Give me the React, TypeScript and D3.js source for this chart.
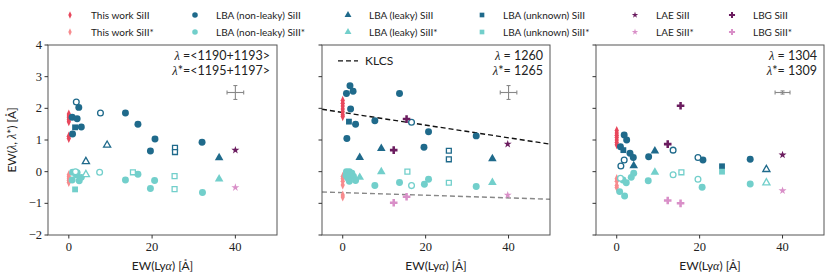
import React from "react";
import * as d3 from "d3";

const W = 831;
const H = 279;

// colours
const cRed = "#e8475c";
const cPink = "#f78b8e";
const cDark = "#1f6a8b";
const cLight = "#72cfcb";
const cPurple = "#6b1c5f";
const cLilac = "#d98fc8";

// panel texts
const annotA = ["=<1190+1193>", "=<1195+1197>"];
const annotB = ["= 1260", "= 1265"];
const annotC = ["= 1304", "= 1309"];
const annot = [annotA, annotB, annotC];
const xTicks = [0, 20, 40];
const yTicks = [-2, -1, 0, 1, 2, 3, 4];

// ---- panel 1 : <1190+1193> ----
const p1_tw = [1.82, 1.76, 1.7, 1.64, 1.58, 1.12, 1.05];
const p1_tws = [-0.1, -0.16, -0.22, -0.28, -0.34];
const p1_nl = [[2.4, 2.03], [0.8, 1.72], [2.0, 1.67], [3.0, 1.41], [0.9, 1.19], [13.6, 1.85], [16.6, 1.5], [20.7, 1.03], [19.6, 0.65], [32.0, 0.93]];
const p1_nlOpen = [[1.8, 2.2], [7.6, 1.85]];
const p1_l = [[36.1, 0.44]];
const p1_lOpen = [[9.2, 0.84], [4.1, 0.32]];
const p1_u = [[1.5, 1.4]];
const p1_uOpen = [[25.5, 0.75], [25.5, 0.62]];
const p1_lae = [[40, 0.68]];
const p1_lbg: number[][] = [];
const p1_nls = [[0.9, -0.02], [2.0, -0.03], [1.8, -0.1], [0.8, -0.26], [2.5, -0.29], [3.0, -0.18], [13.6, -0.26], [16.6, -0.08], [20.6, -0.28], [19.6, -0.53], [32.1, -0.66]];
const p1_nlsOpen = [[7.4, -0.02], [1.6, 0.0]];
const p1_ls = [[36.1, -0.23]];
const p1_lsOpen = [[4.1, -0.09]];
const p1_us = [[1.5, -0.56]];
const p1_usOpen = [[15.4, -0.02], [25.4, -0.14], [25.4, -0.55]];
const p1_laes = [[40, -0.5]];
const p1_lbgs: number[][] = [];

// ---- panel 2 : 1260 ----
const p2_tw = [2.25, 2.16, 2.07, 1.98, 1.89, 1.8, 1.74];
const p2_tws = [-0.15, -0.22, -0.3, -0.42, -0.74, -0.8];
const p2_nl = [[1.75, 2.71], [0.9, 2.47], [2.5, 2.54], [1.9, 1.98], [3.1, 1.5], [1.0, 1.05], [13.7, 2.47], [7.75, 1.61], [20.7, 1.26], [19.6, 0.77], [32.2, 1.13]];
const p2_nlOpen = [[16.6, 1.56]];
const p2_l = [[9.3, 0.73], [4.1, 0.45], [36.1, 0.41]];
const p2_lOpen: number[][] = [];
const p2_u = [[1.5, 1.58]];
const p2_uOpen = [[25.6, 0.66], [25.6, 0.39]];
const p2_lae = [[39.8, 0.87]];
const p2_lbg = [[15.4, 1.66], [12.3, 0.68]];
const p2_nls = [[0.9, 0.0], [1.6, 0.0], [2.2, -0.05], [1.2, -0.2], [2.6, -0.15], [3.1, -0.28], [1.6, -0.3], [0.8, -0.12], [7.75, -0.44], [13.7, -0.34], [19.7, -0.4], [20.7, -0.24], [32.2, -0.47]];
const p2_nlsOpen = [[16.6, -0.44]];
const p2_ls = [[9.3, 0.0], [4.1, -0.18], [36.1, -0.34]];
const p2_lsOpen: number[][] = [];
const p2_us: number[][] = [];
const p2_usOpen = [[15.6, 0.0], [25.6, -0.35]];
const p2_laes = [[39.8, -0.74]];
const p2_lbgs = [[12.3, -0.98], [15.4, -0.79]];
const p2_klcs = [[-5, 1.97], [50, 0.87]];
const p2_klcsStar = [[-5, -0.64], [50, -0.87]];

// ---- panel 3 : 1304 ----
const p3_tw = [1.3, 1.22, 1.15, 1.08, 1.0, 0.92, 0.85];
const p3_tws = [-0.22, -0.3, -0.44, -0.5];
const p3_nl = [[1.8, 1.16], [2.4, 1.0], [0.9, 0.79], [3.2, 0.58], [4.0, 0.45], [7.7, 0.47], [20.8, 0.37], [32.2, 0.39]];
const p3_nlOpen = [[1.0, 0.18], [1.8, 0.37], [13.6, 0.68], [19.6, 0.45]];
const p3_l = [[9.2, 0.65], [4.1, 0.19]];
const p3_lOpen = [[36.1, 0.07]];
const p3_u = [[1.6, 0.68], [25.4, 0.17]];
const p3_uOpen: number[][] = [];
const p3_lae = [[40, 0.53]];
const p3_lbg = [[15.4, 2.08], [12.3, 0.87]];
const p3_nls = [[1.5, -0.26], [2.3, -0.35], [3.5, -0.18], [4.1, -0.05], [0.7, -0.63], [1.9, -0.77], [7.6, -0.29], [20.6, -0.49], [32.2, -0.39]];
const p3_nlsOpen = [[0.9, -0.21], [13.6, -0.1], [19.6, -0.24]];
const p3_ls = [[9.2, -0.02]];
const p3_lsOpen = [[36.1, -0.35]];
const p3_us = [[25.4, 0.0]];
const p3_usOpen = [[15.6, -0.02]];
const p3_laes = [[40, -0.6]];
const p3_lbgs = [[12.3, -0.91], [15.4, -1.0]];

// error bar: [x, y, xerr, yerr]
const errBars = [[40, 2.5, 2, 0.22], [40, 2.5, 2, 0.22], [40, 2.5, 1.8, 0.05]];

const panels = [
  { x0: 48, x1: 277, tw: p1_tw, tws: p1_tws, nl: p1_nl, nlO: p1_nlOpen, l: p1_l, lO: p1_lOpen, u: p1_u, uO: p1_uOpen, lae: p1_lae, lbg: p1_lbg, nls: p1_nls, nlsO: p1_nlsOpen, ls: p1_ls, lsO: p1_lsOpen, us: p1_us, usO: p1_usOpen, laes: p1_laes, lbgs: p1_lbgs },
  { x0: 322, x1: 550, tw: p2_tw, tws: p2_tws, nl: p2_nl, nlO: p2_nlOpen, l: p2_l, lO: p2_lOpen, u: p2_u, uO: p2_uOpen, lae: p2_lae, lbg: p2_lbg, nls: p2_nls, nlsO: p2_nlsOpen, ls: p2_ls, lsO: p2_lsOpen, us: p2_us, usO: p2_usOpen, laes: p2_laes, lbgs: p2_lbgs },
  { x0: 596, x1: 824, tw: p3_tw, tws: p3_tws, nl: p3_nl, nlO: p3_nlOpen, l: p3_l, lO: p3_lOpen, u: p3_u, uO: p3_uOpen, lae: p3_lae, lbg: p3_lbg, nls: p3_nls, nlsO: p3_nlsOpen, ls: p3_ls, lsO: p3_lsOpen, us: p3_us, usO: p3_usOpen, laes: p3_laes, lbgs: p3_lbgs },
];

const yTop = 45;
const yBot = 235;

const diamond = "M0,-4.6L2.1,0L0,4.6L-2.1,0Z";
const sym = {
  circle: d3.symbol(d3.symbolCircle, 38)()!,
  triangle: d3.symbol(d3.symbolTriangle, 32)()!,
  square: d3.symbol(d3.symbolSquare, 34)()!,
  star: d3.symbol(d3.symbolStar, 20)()!,
  cross: d3.symbol(d3.symbolCross, 32)()!,
  openCircle: d3.symbol(d3.symbolCircle, 26)()!,
  openTriangle: d3.symbol(d3.symbolTriangle, 22)()!,
  openSquare: d3.symbol(d3.symbolSquare, 24)()!,
};

const legendItems = [
  ["This work SiII", diamond, cRed],
  ["This work SiII*", diamond, cPink],
  ["LBA (non-leaky) SiII", sym.circle, cDark],
  ["LBA (non-leaky) SiII*", sym.circle, cLight],
  ["LBA (leaky) SiII", sym.triangle, cDark],
  ["LBA (leaky) SiII*", sym.triangle, cLight],
  ["LBA (unknown) SiII", sym.square, cDark],
  ["LBA (unknown) SiII*", sym.square, cLight],
  ["LAE SiII", sym.star, cPurple],
  ["LAE SiII*", sym.star, cLilac],
  ["LBG SiII", sym.cross, cPurple],
  ["LBG SiII*", sym.cross, cLilac],
];
const legendCols = [70, 195, 348, 482, 635, 732];

const sans = "Lato, 'DejaVu Sans', sans-serif";
const serif = "'Liberation Serif', 'DejaVu Serif', serif";

export default function App() {
  const y = d3.scaleLinear().domain([-2, 4]).range([yBot, yTop]);

  const marks = (pts: number[][], x: any, d: string, color: string, open = false, key = "") =>
    pts.map((p, i) => (
      <path key={key + i} d={d} transform={`translate(${x(p[0])},${y(p[1])})`}
        fill={open ? "white" : color} stroke={color} strokeWidth={open ? 1.3 : 0} />
    ));

  return (
    <svg width={W} height={H} style={{ display: "block", position: "absolute", left: 0, top: 0 }}>
      <rect width={W} height={H} fill="white" />
      {/* legend */}
      {legendItems.map((it, i) => {
        const col = Math.floor(i / 2);
        const row = i % 2;
        const lx = legendCols[col];
        const ly = 15 + row * 17;
        return (
          <g key={"lg" + i}>
            <path d={it[1]} transform={`translate(${lx},${ly}) scale(0.8)`} fill={it[2]} />
            <text x={lx + 21} y={ly + 4} fontFamily={sans} fontSize={10} fill="#222">{it[0]}</text>
          </g>
        );
      })}

      {panels.map((P, pi) => {
        const x = d3.scaleLinear().domain([-5, 50]).range([P.x0, P.x1]);
        const eb = errBars[pi];
        return (
          <g key={"p" + pi}>
            <clipPath id={"clip" + pi}>
              <rect x={P.x0} y={yTop} width={P.x1 - P.x0} height={yBot - yTop} />
            </clipPath>
            {pi === 1 && (
              <g clipPath={`url(#clip${pi})`}>
                <line x1={x(p2_klcs[0][0])} y1={y(p2_klcs[0][1])} x2={x(p2_klcs[1][0])} y2={y(p2_klcs[1][1])}
                  stroke="#111" strokeWidth={1.4} strokeDasharray="5,3" />
                <line x1={x(p2_klcsStar[0][0])} y1={y(p2_klcsStar[0][1])} x2={x(p2_klcsStar[1][0])} y2={y(p2_klcsStar[1][1])}
                  stroke="#888" strokeWidth={1.4} strokeDasharray="5,3" />
              </g>
            )}
            <g>
              {marks(P.tw.map((v) => [0, v]), x, diamond, cRed, false, "tw")}
              {marks(P.tws.map((v) => [0, v]), x, diamond, cPink, false, "tws")}
              {marks(P.nl, x, sym.circle, cDark, false, "nl")}
              {marks(P.nlO, x, sym.openCircle, cDark, true, "nlo")}
              {marks(P.l, x, sym.triangle, cDark, false, "l")}
              {marks(P.lO, x, sym.openTriangle, cDark, true, "lo")}
              {marks(P.u, x, sym.square, cDark, false, "u")}
              {marks(P.uO, x, sym.openSquare, cDark, true, "uo")}
              {marks(P.nls, x, sym.circle, cLight, false, "nls")}
              {marks(P.nlsO, x, sym.openCircle, cLight, true, "nlso")}
              {marks(P.ls, x, sym.triangle, cLight, false, "ls")}
              {marks(P.lsO, x, sym.openTriangle, cLight, true, "lso")}
              {marks(P.us, x, sym.square, cLight, false, "us")}
              {marks(P.usO, x, sym.openSquare, cLight, true, "uso")}
              {marks(P.lae, x, sym.star, cPurple, false, "lae")}
              {marks(P.laes, x, sym.star, cLilac, false, "laes")}
              {marks(P.lbg, x, sym.cross, cPurple, false, "lbg")}
              {marks(P.lbgs, x, sym.cross, cLilac, false, "lbgs")}
            </g>
            {/* error bar */}
            <g stroke="#888" strokeWidth={1.1}>
              <line x1={x(eb[0] - eb[2])} x2={x(eb[0] + eb[2])} y1={y(eb[1])} y2={y(eb[1])} />
              <line x1={x(eb[0])} x2={x(eb[0])} y1={y(eb[1] - eb[3])} y2={y(eb[1] + eb[3])} />
              <line x1={x(eb[0] - eb[2])} x2={x(eb[0] - eb[2])} y1={y(eb[1]) - 2} y2={y(eb[1]) + 2} />
              <line x1={x(eb[0] + eb[2])} x2={x(eb[0] + eb[2])} y1={y(eb[1]) - 2} y2={y(eb[1]) + 2} />
              <line x1={x(eb[0]) - 2} x2={x(eb[0]) + 2} y1={y(eb[1] - eb[3])} y2={y(eb[1] - eb[3])} />
              <line x1={x(eb[0]) - 2} x2={x(eb[0]) + 2} y1={y(eb[1] + eb[3])} y2={y(eb[1] + eb[3])} />
            </g>
            {/* frame */}
            <rect x={P.x0} y={yTop} width={P.x1 - P.x0} height={yBot - yTop} fill="none" stroke="#555" strokeWidth={1} />
            {/* y ticks */}
            {yTicks.map((t) => (
              <g key={"yt" + t}>
                <line x1={P.x0 - 3.5} x2={P.x0} y1={y(t)} y2={y(t)} stroke="#333" />
                {pi === 0 && (
                  <text x={P.x0 - 6} y={y(t) + 4} textAnchor="end" fontFamily={serif} fontSize={12.5} fill="#222">
                    {t < 0 ? "\u2212" + Math.abs(t) : t}
                  </text>
                )}
              </g>
            ))}
            {xTicks.map((t) => (
              <g key={"xt" + t}>
                <line x1={x(t)} x2={x(t)} y1={yBot} y2={yBot + 3.5} stroke="#333" />
                <text x={x(t)} y={yBot + 16} textAnchor="middle" fontFamily={serif} fontSize={12.5} fill="#222">{t}</text>
              </g>
            ))}
            <text x={(P.x0 + P.x1) / 2} y={270} textAnchor="middle" fontFamily={sans} fontSize={12} fill="#222">
              EW(Ly<tspan fontFamily={serif} fontStyle="italic">{"\u03b1"}</tspan>) [Å]
            </text>
            {annot[pi].map((s, k) => (
              <text key={"an" + k} x={P.x1 - 7} y={60 + k * 15} textAnchor="end" fontFamily={sans} fontSize={12.5} fill="#222">
                <tspan fontFamily={serif} fontStyle="italic">{"\u03bb"}</tspan>
                {(k === 1 ? "*" : " ") + s}
              </text>
            ))}
            {pi === 1 && (
              <g>
                <line x1={P.x0 + 16} x2={P.x0 + 36} y1={y(3.5)} y2={y(3.5)} stroke="#111" strokeWidth={1.4} strokeDasharray="5,3" />
                <text x={P.x0 + 43} y={y(3.5) + 4.5} fontFamily={sans} fontSize={12} fill="#222">KLCS</text>
              </g>
            )}
          </g>
        );
      })}
      <text transform={`translate(16,${(yTop + yBot) / 2}) rotate(-90)`} textAnchor="middle" fontFamily={sans} fontSize={12} fill="#222">
        EW(<tspan fontFamily={serif} fontStyle="italic">{"\u03bb"}</tspan>, <tspan fontFamily={serif} fontStyle="italic">{"\u03bb"}</tspan>*) [Å]
      </text>
    </svg>
  );
}
